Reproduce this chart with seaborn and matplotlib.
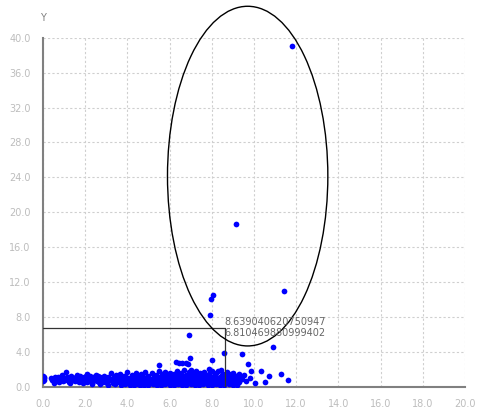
import matplotlib
matplotlib.use("Agg")
import matplotlib.pyplot as plt
from matplotlib.patches import Ellipse
import seaborn as sns
import pandas as pd

# ---- data ----
points = [
    (0.02,0.7),(0.03,1.0),(0.02,1.25),(0.04,0.85),(0.05,1.1),(0.4,1.0),(0.45,0.8),
    (0.55,1.1),(0.6,0.7),(0.65,0.9),(0.7,1.2),(0.75,0.6),(0.8,1.0),(0.85,0.8),(0.9,1.4),(0.95,0.65),
    (1.0,1.0),(1.05,0.75),(1.1,1.7),(1.15,1.2),(1.2,0.9),(1.25,0.6),(1.3,1.1),(1.35,1.3),(1.4,0.8),(1.45,1.0),
    (1.5,0.7),(1.55,1.2),(1.6,0.9),(1.65,1.05),(1.7,0.55),(1.75,1.3),(1.8,0.8),(1.85,1.0),(1.9,0.65),(1.95,1.15),
    (2.0,0.9),(2.05,1.3),(2.1,0.6),(2.15,1.0),(2.2,0.8),(2.25,1.25),(2.3,0.5),(2.35,1.1),(2.4,0.75),(2.45,0.95),
    (2.5,1.4),(2.55,0.7),(2.6,1.0),(2.65,0.55),(2.7,1.2),(2.75,0.85),(2.8,1.05),(2.85,0.6),(2.9,1.3),(2.95,0.8),
    (3.0,1.0),(3.05,0.5),(3.1,1.2),(3.15,0.75),(3.2,1.6),(3.25,0.9),(3.3,0.45),(3.35,1.1),(3.4,0.7),(3.45,1.35),(3.48,0.95),
    (3.5,0.6),(3.55,1.2),(3.6,0.85),(3.65,1.5),(3.7,0.4),(3.75,1.0),(3.8,0.7),(3.85,1.3),(3.9,0.55),(3.95,1.1),(3.98,0.9),
    (4.0,1.7),(4.05,0.6),(4.1,1.0),(4.15,0.35),(4.2,1.4),(4.25,0.8),(4.3,1.15),(4.35,0.5),(4.4,1.6),(4.45,0.9),(4.48,1.25),
    (4.5,0.4),(4.55,1.0),(4.6,0.7),(4.65,1.5),(4.7,0.3),(4.75,1.2),(4.8,0.85),(4.85,1.75),(4.9,0.5),(4.95,1.1),(4.98,0.75),
    (5.0,1.3),(5.05,0.45),(5.1,0.95),(5.15,1.6),(5.2,0.6),(5.25,1.15),(5.3,0.35),(5.35,1.4),(5.4,0.8),(5.45,1.0),(5.48,1.8),
    (5.5,0.5),(5.5,2.5),(5.55,1.2),(5.6,0.7),(5.65,1.5),(5.7,0.3),(5.75,1.05),(5.8,1.7),(5.85,0.6),(5.9,1.3),(5.95,0.9),(5.98,0.4),
    (6.0,1.6),(6.05,0.8),(6.1,1.1),(6.15,0.35),(6.2,1.45),(6.25,0.65),(6.3,2.9),(6.3,1.0),(6.35,1.8),(6.4,0.5),(6.45,2.8),(6.45,1.25),(6.5,0.75),
    (6.55,1.55),(6.6,2.7),(6.6,0.4),(6.65,1.1),(6.7,1.9),(6.75,0.6),(6.8,2.8),(6.8,1.35),(6.85,2.6),(6.85,0.9),(6.9,6.0),(6.9,1.7),(6.95,0.5),(6.97,3.3),
    (7.0,1.95),(7.0,1.2),(7.05,0.7),(7.1,1.5),(7.15,0.4),(7.2,1.05),(7.25,1.8),(7.3,0.6),(7.35,1.3),(7.4,0.9),(7.45,1.6),
    (7.5,0.45),(7.55,1.15),(7.6,0.75),(7.65,1.7),(7.7,0.55),(7.75,1.25),(7.8,0.9),(7.85,1.5),(7.88,2.1),(7.9,8.3),(7.95,10.05),(7.95,0.4),(7.98,1.1),
    (8.0,1.8),(8.02,3.05),(8.04,10.55),(8.05,0.7),(8.1,1.3),(8.15,0.5),(8.2,1.6),(8.25,1.0),(8.3,1.85),(8.35,0.6),(8.4,1.2),(8.45,1.9),(8.5,0.8),
    (8.55,1.5),(8.58,3.93),(8.6,0.45),(8.65,1.1),(8.7,1.7),(8.75,0.7),(8.8,1.4),(8.85,1.0),(8.9,0.55),(8.95,1.25),
    (9.0,1.6),(9.05,0.8),(9.13,18.7),(9.15,1.3),(9.2,0.4),(9.25,1.0),(9.3,0.6),(9.35,1.2),(9.42,3.74),(9.45,0.9),
    (9.55,1.4),(9.6,0.7),(9.72,2.63),(9.8,1.0),(9.86,1.87),(10.05,0.49),(10.35,1.83),(10.54,0.57),(10.73,1.26),
    (10.88,4.62),(11.26,1.45),(11.42,11.03),(11.61,0.80),(11.82,39.1),
    (0.5,0.5),(1.3,0.45),(1.9,0.4),(2.3,0.3),(2.7,0.35),(3.1,0.25),(3.4,0.3),(3.7,0.25),(3.9,0.3),(4.1,0.2),
    (4.3,0.25),(4.5,0.3),(4.6,0.2),(4.8,0.25),(5.0,0.2),(5.2,0.3),(5.4,0.25),(5.6,0.2),(5.8,0.3),(6.0,0.25),
    (6.2,0.2),(6.4,0.3),(6.6,0.2),(6.8,0.25),(7.0,0.3),(7.2,0.2),(7.4,0.25),(7.6,0.3),(7.8,0.2),(8.0,0.25),
    (8.2,0.3),(8.4,0.2),(8.6,0.25),(8.8,0.3),(9.0,0.2),(9.2,0.25),
    (3.2,0.9),(3.6,1.05),(4.2,0.65),(4.4,1.05),(4.7,0.95),(5.1,0.7),(5.3,1.2),(5.7,0.85),(5.9,1.45),(6.1,0.6),
    (6.3,1.35),(6.5,1.05),(6.7,0.8),(6.9,1.1),(7.1,0.95),(7.3,1.4),(7.5,1.0),(7.7,1.3),(7.9,0.7),(8.1,1.05),
    (8.3,0.85),(8.5,1.35),(8.7,0.95),(8.9,1.5),(9.1,1.0),(9.3,1.45),(2.1,1.45),(2.6,1.25),(1.6,1.35),
]
x_vals = [p[0] for p in points]
y_vals = [p[1] for p in points]

x_ticks = [0, 2, 4, 6, 8, 10, 12, 14, 16, 18, 20]
y_ticks = [0, 4, 8, 12, 16, 20, 24, 28, 32, 36, 40]

cross_x = 8.639040620750947
cross_y = 6.810469880999402

ellipse_center = (9.7, 24.15)
ellipse_w = 7.6
ellipse_h = 38.9

# ---- drawing ----
sns.set_style("white")
plt.rcParams['font.family'] = ['DejaVu Sans']

fig = plt.figure(figsize=(4.81, 4.13), dpi=100)
ax = fig.add_axes([0.0894, 0.063, 0.8773, 0.8457])

df = pd.DataFrame({"x": x_vals, "y": y_vals})
sns.scatterplot(data=df, x="x", y="y", ax=ax, color="#0000ff", s=17,
                linewidth=0, zorder=3)

ax.set_xlim(0, 20)
ax.set_ylim(0, 40)
ax.set_xticks(x_ticks)
ax.set_yticks(y_ticks)
ax.set_xticklabels([f"{v:.1f}" for v in x_ticks])
ax.set_yticklabels([f"{v:.1f}" for v in y_ticks])
ax.set_xlabel("")
ax.set_ylabel("")
ax.tick_params(axis="both", length=0, labelsize=7, labelcolor="#bdbdbd", pad=9)

ax.grid(True, color="#cfcfcf", linestyle=(0, (2, 2)), linewidth=0.8)
ax.set_axisbelow(True)

for s in ["top", "right"]:
    ax.spines[s].set_visible(False)
for s in ["left", "bottom"]:
    ax.spines[s].set_color("#808080")
    ax.spines[s].set_linewidth(1.5)

ax.text(0, 1.056, "Y", transform=ax.transAxes, ha="center", va="center",
        fontsize=7, color="#808080")

# crosshair
ax.plot([0, cross_x], [cross_y, cross_y], color="#333333", lw=0.9, zorder=4)
ax.plot([cross_x, cross_x], [0, cross_y], color="#333333", lw=0.9, zorder=4)
ax.text(cross_x - 0.03, cross_y, f"{cross_x}\n{cross_y}", ha="left", va="center",
        fontsize=7, color="#666666", linespacing=1.05, zorder=5)

# ellipse
ell = Ellipse(ellipse_center, ellipse_w, ellipse_h, facecolor="none",
              edgecolor="black", lw=1.0, clip_on=False, zorder=4)
ax.add_patch(ell)

fig.savefig("out.png", dpi=100)
